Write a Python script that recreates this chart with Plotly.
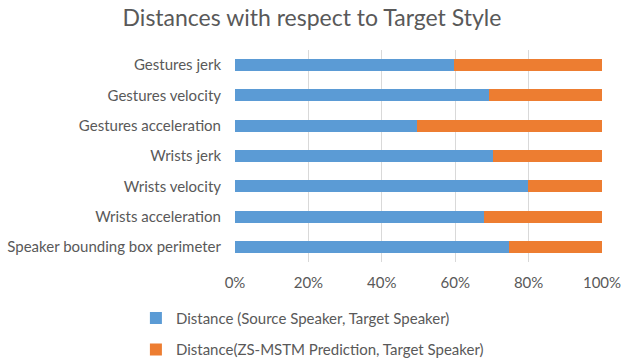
import plotly.graph_objects as go

categories = [
    "Gestures jerk",
    "Gestures velocity",
    "Gestures acceleration",
    "Wrists jerk",
    "Wrists velocity",
    "Wrists acceleration",
    "Speaker bounding box perimeter",
]
source_target = [59.8, 69.3, 49.5, 70.2, 79.7, 67.8, 74.6]
prediction_target = [40.2, 30.7, 50.5, 29.8, 20.3, 32.2, 25.4]
series_names = [
    "Distance (Source Speaker, Target Speaker)",
    "Distance(ZS-MSTM Prediction, Target Speaker)",
]
x_ticks = [0, 20, 40, 60, 80, 100]
x_tick_labels = ["0%", "20%", "40%", "60%", "80%", "100%"]

FONT = "Lato, 'Open Sans', sans-serif"
TEXT = "#595959"

fig = go.Figure()
fig.add_trace(go.Bar(
    y=categories, x=source_target, orientation="h", name=series_names[0],
    marker=dict(color="#5B9BD5", line=dict(width=0)), legendgroup="a",
))
fig.add_trace(go.Bar(
    y=categories, x=prediction_target, orientation="h", name=series_names[1],
    marker=dict(color="#ED7D31", line=dict(width=0)), legendgroup="b",
))

fig.update_layout(
    width=624, height=360,
    barmode="stack", bargap=0.6,
    paper_bgcolor="white", plot_bgcolor="white",
    margin=dict(l=235, r=22, t=50, b=98, autoexpand=False),
    font=dict(family=FONT, size=15, color=TEXT),
    title=dict(text="Distances with respect to Target Style", x=0.5, xanchor="center",
               y=0.95, yanchor="middle", font=dict(size=23, color=TEXT, family=FONT)),
    xaxis=dict(range=[0, 100], tickvals=x_ticks, ticktext=x_tick_labels,
               showgrid=True, gridcolor="#D9D9D9", gridwidth=1, zeroline=False,
               showline=False, ticks="", ticklabelstandoff=10, automargin=False,
               tickangle=0, tickfont=dict(size=15, color=TEXT)),
    yaxis=dict(autorange="reversed", showgrid=False, showline=False, ticks="",
               ticklabelstandoff=13, automargin=False,
               tickfont=dict(size=15, color=TEXT)),
    showlegend=True,
    legend=dict(orientation="v", x=-0.27, xanchor="left", y=-0.188, yanchor="top",
                traceorder="grouped", tracegroupgap=9,
                font=dict(size=15, color=TEXT), bgcolor="rgba(0,0,0,0)"),
)

fig.write_html("out.html", config={"displayModeBar": False},
               post_script="document.body.style.margin='0';")
